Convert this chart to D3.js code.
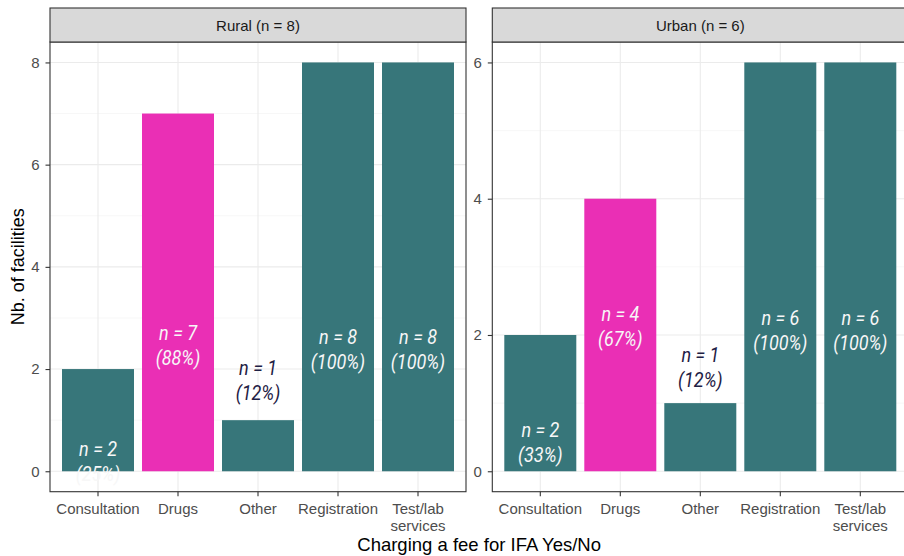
<!DOCTYPE html>
<html><head><meta charset="utf-8">
<script src="https://cdn.jsdelivr.net/npm/d3@7"></script>
<style>
html,body{margin:0;padding:0;background:#fff;}
svg{display:block;}
</style></head>
<body>
<svg id="chart" width="904" height="556"></svg>
<script>
// ---- data ----
const categories = ["Consultation", "Drugs", "Other", "Registration", "Test/lab\nservices"];
const facetNames = ["Rural (n = 8)", "Urban (n = 6)"];
const ruralCounts = [2, 7, 1, 8, 8];
const urbanCounts = [2, 4, 1, 6, 6];
const ruralPct = ["25%", "88%", "12%", "100%", "100%"];
const urbanPct = ["33%", "67%", "12%", "100%", "100%"];
const highlightCategory = "Drugs";
const ruralTicks = [0, 2, 4, 6, 8];
const urbanTicks = [0, 2, 4, 6];
const xTitle = "Charging a fee for IFA Yes/No";
const yTitle = "Nb. of facilities";

// ---- layout ----
const svg = d3.select("#chart");
const panelTop = 42, panelBottom = 491.7, stripTop = 8;
const panels = [
  {name: facetNames[0], counts: ruralCounts, pct: ruralPct, ticks: ruralTicks, x0: 50, x1: 466,
   labelAt: [0.2, 2.47, 1.77, 2.38, 2.38]},
  {name: facetNames[1], counts: urbanCounts, pct: urbanPct, ticks: urbanTicks, x0: 492.3, x1: 908.3,
   labelAt: [0.42, 2.12, 1.52, 2.06, 2.06]}
];
const teal = "#37767a", pink = "#ea2fb5";
const tickFont = "'Liberation Sans', Arial, sans-serif";

panels.forEach(p => {
  const maxV = d3.max(p.ticks);
  const y = d3.scaleLinear().domain([-0.05 * maxV, 1.05 * maxV]).range([panelBottom, panelTop]);
  // discrete x scale with ggplot-style expansion (0.6 units each side)
  const x = d3.scalePoint().domain(categories).range([p.x0, p.x1]).padding(0.6);
  const step = x.step();
  const cx = c => x(c);
  const bw = step * 0.9;

  const g = svg.append("g");
  g.append("rect").attr("x", p.x0).attr("y", panelTop).attr("width", p.x1 - p.x0).attr("height", panelBottom - panelTop).attr("fill", "#fff");
  const minor = d3.range(1, maxV, 2);
  g.selectAll(".minor").data(minor).enter().append("line")
    .attr("x1", p.x0).attr("x2", p.x1).attr("y1", d => y(d)).attr("y2", d => y(d))
    .attr("stroke", "#f2f2f2").attr("stroke-width", 0.6);
  g.selectAll(".major").data(p.ticks).enter().append("line")
    .attr("x1", p.x0).attr("x2", p.x1).attr("y1", d => y(d)).attr("y2", d => y(d))
    .attr("stroke", "#ebebeb").attr("stroke-width", 1.1);
  g.selectAll(".vgrid").data(categories).enter().append("line")
    .attr("x1", d => cx(d)).attr("x2", d => cx(d)).attr("y1", panelTop).attr("y2", panelBottom)
    .attr("stroke", "#ebebeb").attr("stroke-width", 1.1);
  g.selectAll(".bar").data(categories).enter().append("rect")
    .attr("x", d => cx(d) - bw / 2).attr("width", bw)
    .attr("y", (d, i) => y(p.counts[i])).attr("height", (d, i) => y(0) - y(p.counts[i]))
    .attr("fill", d => d === highlightCategory ? pink : teal);
  categories.forEach((c, i) => {
    const inside = p.labelAt[i] < p.counts[i];
    const cy = y(p.labelAt[i]);
    const t = g.append("text")
      .attr("transform", `translate(${cx(c)},${cy}) scale(0.9,1)`)
      .attr("text-anchor", "middle")
      .attr("font-family", "Roboto, sans-serif").attr("font-style", "italic")
      .attr("font-size", 20)
      .attr("fill", inside ? "#f7f7f7" : "#1e2044");
    t.append("tspan").attr("x", 0).attr("y", -5.5).text("n = " + p.counts[i]);
    t.append("tspan").attr("x", 0).attr("y", 19.5).text("(" + p.pct[i] + ")");
  });
  g.append("rect").attr("x", p.x0).attr("y", panelTop).attr("width", p.x1 - p.x0).attr("height", panelBottom - panelTop)
    .attr("fill", "none").attr("stroke", "#333333").attr("stroke-width", 1.1);
  g.append("rect").attr("x", p.x0).attr("y", stripTop).attr("width", p.x1 - p.x0).attr("height", panelTop - stripTop)
    .attr("fill", "#d9d9d9").attr("stroke", "#333333").attr("stroke-width", 1.1);
  g.append("text").attr("x", (p.x0 + p.x1) / 2).attr("y", (stripTop + panelTop) / 2 + 5.5)
    .attr("text-anchor", "middle").attr("font-family", tickFont).attr("font-size", 15).attr("fill", "#1a1a1a")
    .text(p.name);
  const yAxis = d3.axisLeft(y).tickValues(p.ticks).tickSize(4.5).tickPadding(6).tickFormat(d3.format("d"));
  const ya = g.append("g").attr("transform", `translate(${p.x0},0)`).call(yAxis);
  ya.select(".domain").remove();
  ya.selectAll("line").attr("stroke", "#333333").attr("stroke-width", 1.1);
  ya.selectAll("text").attr("font-family", tickFont).attr("font-size", 15).attr("fill", "#4d4d4d");
  categories.forEach(c => {
    g.append("line").attr("x1", cx(c)).attr("x2", cx(c)).attr("y1", panelBottom).attr("y2", panelBottom + 4.5)
      .attr("stroke", "#333333").attr("stroke-width", 1.1);
    const lines = c.split("\n");
    const t = g.append("text").attr("text-anchor", "middle").attr("font-family", tickFont)
      .attr("font-size", 15).attr("fill", "#4d4d4d");
    lines.forEach((l, k) => t.append("tspan").attr("x", cx(c)).attr("y", panelBottom + 22 + k * 17).text(l));
  });
});

svg.append("text").attr("x", (50 + 908.3) / 2).attr("y", 551).attr("text-anchor", "middle")
  .attr("font-family", tickFont).attr("font-size", 18.5).attr("fill", "#000").text(xTitle);
svg.append("text").attr("transform", `translate(24,${(panelTop + panelBottom) / 2}) rotate(-90)`)
  .attr("text-anchor", "middle").attr("font-family", tickFont).attr("font-size", 18).attr("fill", "#000").text(yTitle);
</script>
</body></html>
